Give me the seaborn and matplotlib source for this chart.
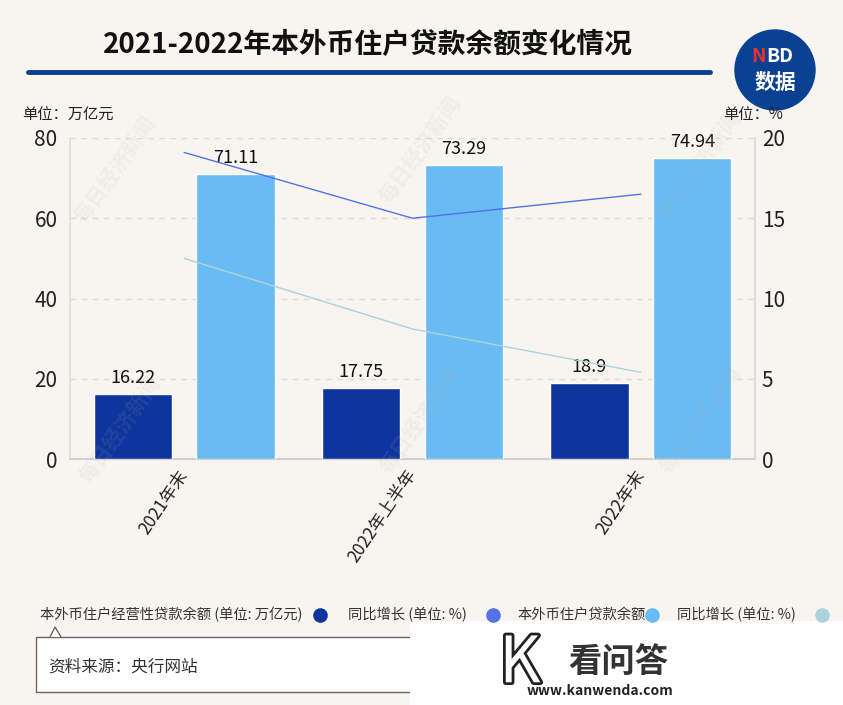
import numpy as np
import pandas as pd
import matplotlib
matplotlib.use("Agg")
import matplotlib.pyplot as plt
import seaborn as sns
from matplotlib.patches import Rectangle, Circle, Polygon
from matplotlib.lines import Line2D
import matplotlib.patheffects as pe

sns.set_theme(style="white")
plt.rcParams['font.family'] = ['Noto Sans CJK SC', 'DejaVu Sans']

# data
periods = ["2021年末", "2022年上半年", "2022年末"]
biz_loans = [16.22, 17.75, 18.9]        # 本外币住户经营性贷款余额 (万亿元)
house_loans = [71.11, 73.29, 74.94]     # 本外币住户贷款余额 (万亿元)
biz_growth = [19.1, 15.0, 16.5]         # 同比增长 (%)
house_growth = [12.5, 8.1, 5.4]         # 同比增长 (%)
series_names = ["本外币住户经营性贷款余额 (单位: 万亿元)", "同比增长 (单位: %)",
                "本外币住户贷款余额", "同比增长 (单位: %)"]

bg = "#f8f5f1"
dark = "#0e359e"
light = "#69bbf3"
line1 = "#5571e6"
line2 = "#abd3dc"

df = pd.DataFrame({
    "period": periods * 2,
    "value": biz_loans + house_loans,
    "series": ["biz"] * 3 + ["house"] * 3,
})

fig = plt.figure(figsize=(8.43, 7.05), dpi=100, facecolor=bg)
W, H = 843, 705

ax = fig.add_axes([70 / W, 1 - 459 / H, 685 / W, 321 / H])
ax.set_facecolor("none")
sns.barplot(data=df, x="period", y="value", hue="series", palette=[dark, light],
            width=0.9, gap=0.24, saturation=1, legend=False, ax=ax, zorder=3)
for c in ax.containers:
    ax.bar_label(c, fontsize=13, padding=5, color="#111111")
ax.set_xlim(-0.5, 2.5)
ax.set_ylim(0, 80)
ax.set_yticks(range(0, 81, 20))
ax.set_xlabel("")
ax.set_ylabel("")
ax.yaxis.grid(True, linestyle=(0, (4, 4)), color="#dedad5", lw=1)
ax.set_axisbelow(True)
ax.tick_params(axis="y", length=0, labelsize=15, labelcolor="#222222", pad=9)
ax.tick_params(axis="x", length=0, labelsize=12.5, labelcolor="#222222", pad=9)
for lab in ax.get_xticklabels():
    lab.set_rotation(56)
    lab.set_ha("right")
    lab.set_rotation_mode("anchor")
    lab.set_va("center")
ax.spines["top"].set_visible(False)
ax.spines["left"].set_color("#dddddd")
ax.spines["right"].set_color("#dddddd")
ax.spines["bottom"].set_color("#d0d0d0")
ax.spines["bottom"].set_linewidth(1.5)

ax2 = ax.twinx()
pos = np.arange(len(periods))
sns.lineplot(x=pos, y=biz_growth, ax=ax2, color=line1, lw=1)
sns.lineplot(x=pos, y=house_growth, ax=ax2, color=line2, lw=1)
ax2.set_ylim(0, 20)
ax2.set_yticks(range(0, 21, 5))
ax2.tick_params(axis="y", length=0, labelsize=15, labelcolor="#222222", pad=5)
for s in ["top", "left", "bottom"]:
    ax2.spines[s].set_visible(False)
ax2.spines["right"].set_color("#dddddd")

# faint watermark
for (wx, wy) in [(115, 170), (420, 150), (700, 165), (120, 430), (420, 420), (700, 420)]:
    fig.text(wx / W, 1 - wy / H, "每日经济新闻", rotation=55, fontsize=15, color="#b8aea4",
             alpha=0.12, ha="center", va="center", weight="bold")

# units
fig.text(22 / W, 1 - 115 / H, "单位：万亿元", fontsize=11, color="#222222", va="center")
fig.text(723 / W, 1 - 115 / H, "单位：%", fontsize=11, color="#222222", va="center")

# title and rule
fig.text(368 / W, 1 - 45 / H, "2021-2022年本外币住户贷款余额变化情况", fontsize=20,
         weight="bold", ha="center", va="center", color="#111111")
fig.add_artist(Line2D([28 / W, 710 / W], [1 - 72 / H] * 2, lw=3.5, color="#0a3f94"))

# NBD badge
fig.add_artist(Circle((775, H - 70), 40, transform=None, color="#0b4192"))
fig.text(766 / W, 1 - 56 / H, "N", fontsize=14, weight="bold", color="#e8322b", ha="right", va="center")
fig.text(766 / W, 1 - 56 / H, "BD", fontsize=14, weight="bold", color="white", ha="left", va="center")
fig.text(775 / W, 1 - 82 / H, "数据", fontsize=15, weight="bold", color="white", ha="center", va="center")

# legend row
leg_x = [40, 348, 518, 677]
dot_x = [320, 493, 652, 822]
leg_colors = [dark, line1, light, line2]
for name, tx, dx, col in zip(series_names, leg_x, dot_x, leg_colors):
    fig.text(tx / W, 1 - 615 / H, name, fontsize=10.3, color="#333333", va="center")
    fig.add_artist(Line2D([dx / W], [1 - 615 / H], marker="o", markersize=9.5, color=col, lw=0))

# source box
fig.add_artist(Rectangle((36, H - 692), 470, 55, transform=None, facecolor="white",
                         edgecolor="#666666", lw=1))
fig.add_artist(Polygon([[50, H - 637], [55, H - 627], [61, H - 637]], closed=False, transform=None,
                       facecolor="white", edgecolor="#666666", lw=1))
fig.text(48 / W, 1 - 667 / H, "资料来源：央行网站", fontsize=12, color="#333333", va="center")

# site mark
fig.add_artist(Rectangle((410, 0), 433, H - 621, transform=None, facecolor="white", edgecolor="none"))
fig.text(520 / W, 1 - 664 / H, "K", fontsize=46, color="white", ha="center", va="center",
         path_effects=[pe.withStroke(linewidth=4, foreground="#222222")])
fig.text(618 / W, 1 - 662 / H, "看问答", fontsize=24, weight="bold", color="#333333", ha="center", va="center")
fig.text(600 / W, 1 - 691 / H, "www.kanwenda.com", fontsize=10, weight="bold", color="#222222",
         ha="center", va="center")

fig.savefig("out.png", dpi=100, facecolor=bg)
